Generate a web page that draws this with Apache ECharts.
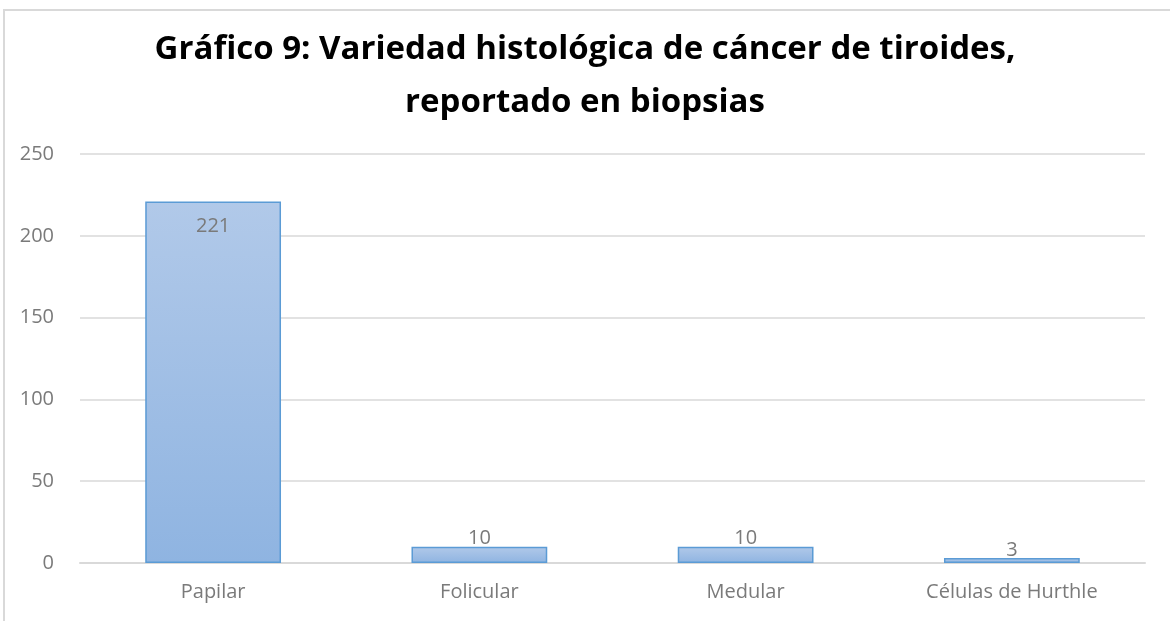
<!DOCTYPE html>
<html>
<head>
<meta charset="utf-8">
<script src="https://cdn.jsdelivr.net/npm/echarts@6/dist/echarts.min.js"></script>
<style>
	html, body { margin: 0; padding: 0; background: #fff; }
	#frame { position: absolute; left: 3px; top: 9px; width: 1180px; height: 630px; border-left: 2px solid #d9d9d9; border-top: 2px solid #d9d9d9; }
	#main { position: absolute; left: 0; top: 0; width: 1170px; height: 621px; }
</style>
</head>
<body>
<div id="frame"></div>
<div id="main"></div>
<script>
const categories = ['Papilar', 'Folicular', 'Medular', 'Células de Hurthle'];
const values = [221, 10, 10, 3];
const yTicks = { min: 0, max: 250, interval: 50 };

const chart = echarts.init(document.getElementById('main'));

var option = {
	backgroundColor: 'transparent',
	title: {
		text: 'Gráfico 9: Variedad histológica de cáncer de tiroides,\nreportado en biopsias',
		left: 'center',
		top: 18,
		textStyle: {
			fontFamily: 'Open Sans',
			fontSize: 33,
			fontWeight: 'bold',
			color: '#000',
			lineHeight: 53
		}
	},
	grid: { left: 80, right: 25, top: 154, bottom: 58 },
	xAxis: {
		type: 'category',
		data: categories,
		axisLine: { lineStyle: { color: '#d9d9d9', width: 2 } },
		axisTick: { show: false },
		axisLabel: { color: '#7a7a7a', fontSize: 20, fontFamily: 'Open Sans', margin: 19 }
	},
	yAxis: {
		type: 'value',
		min: yTicks.min,
		max: yTicks.max,
		interval: yTicks.interval,
		axisLine: { show: false },
		axisTick: { show: false },
		axisLabel: { color: '#7a7a7a', fontSize: 20, fontFamily: 'Open Sans', margin: 26 },
		splitLine: { lineStyle: { color: '#d9d9d9', width: 1.5 } }
	},
	series: [{
		type: 'bar',
		data: values.map(function (v, i) {
			return {
				value: v,
				label: i === 0
					? { position: 'insideTop', distance: 15 }
					: { position: 'top', distance: -2 }
			};
		}),
		barWidth: '51%',
		itemStyle: {
			color: new echarts.graphic.LinearGradient(0, 0, 0, 1, [
				{ offset: 0, color: '#b1c9e9' },
				{ offset: 1, color: '#8fb4e1' }
			]),
			borderColor: '#5b9bd5',
			borderWidth: 1.5
		},
		label: {
			show: true,
			color: '#7a7a7a',
			fontSize: 20,
			fontFamily: 'Open Sans'
		}
	}]
};

chart.setOption(option);
</script>
</body>
</html>
